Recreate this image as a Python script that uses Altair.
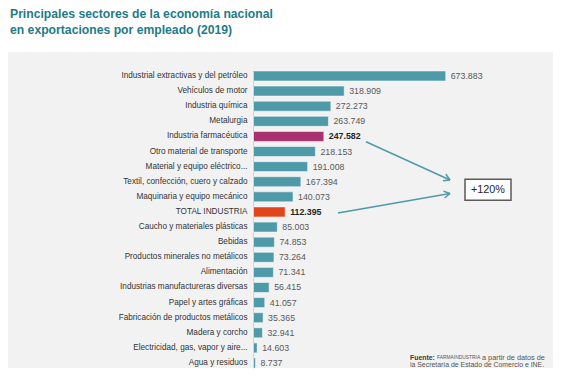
import altair as alt
import pandas as pd

sectors = [
    "Industrial extractivas y del petróleo",
    "Vehículos de motor",
    "Industria química",
    "Metalurgia",
    "Industria farmacéutica",
    "Otro material de transporte",
    "Material y equipo eléctrico...",
    "Textil, confección, cuero y calzado",
    "Maquinaria y equipo mecánico",
    "TOTAL INDUSTRIA",
    "Caucho y materiales plásticas",
    "Bebidas",
    "Productos minerales no metálicos",
    "Alimentación",
    "Industrias manufactureras diversas",
    "Papel y artes gráficas",
    "Fabricación de productos metálicos",
    "Madera y corcho",
    "Electricidad, gas, vapor y aire...",
    "Agua y residuos",
]
values = [673883, 318909, 272273, 263749, 247582, 218153, 191008, 167394,
          140073, 112395, 85003, 74853, 73264, 71341, 56415, 41057, 35365,
          32941, 14603, 8737]
highlight = {"Industria farmacéutica": "pharma", "TOTAL INDUSTRIA": "total"}
title_lines = ["Principales sectores de la economía nacional",
               "en exportaciones por empleado (2019)"]
annotation_text = "+120%"
source_bold = "Fuente:"
source_org = "FARMAINDUSTRIA"
source_rest = "a partir de datos de"
source_line2 = "la Secretaría de Estado de Comercio e INE."

df = pd.DataFrame({"sector": sectors, "value": values})
df["label"] = df["value"].map(lambda v: f"{v:,}".replace(",", "."))
df["group"] = df["sector"].map(lambda s: highlight.get(s, "other"))
df["bold"] = df["group"].map(lambda g: "bold" if g != "other" else "normal")

W, H = 286, 297
FONT = "Liberation Sans, Arial, sans-serif"
TEAL = "#4f9aa9"

dummy = pd.DataFrame({"a": [0]})

y = alt.Y(
    "sector:N", sort=sectors, title=None,
    scale=alt.Scale(paddingInner=0.34, paddingOuter=0),
    axis=alt.Axis(zindex=1, labelFont=FONT, labelFontSize=8.2, labelColor="#333333",
                  domainColor="#d4d4d4", domainWidth=1, ticks=False,
                  labelPadding=6, labelLimit=400),
)
x = alt.X("value:Q", scale=alt.Scale(domain=[0, 1000000]), axis=None)

bg_gray = alt.Chart(dummy).mark_rect(color="#f2f2f2").encode(
    x=alt.value(-245), x2=alt.value(300), y=alt.value(-19), y2=alt.value(297))
bg_white = alt.Chart(dummy).mark_rect(color="#ffffff").encode(
    x=alt.value(-245), x2=alt.value(300), y=alt.value(-63), y2=alt.value(-19))

bars = alt.Chart(df).mark_bar(stroke="#ffffff", strokeOpacity=0.5, strokeWidth=1).encode(
    y=y, x=x,
    color=alt.Color("group:N", legend=None,
                    scale=alt.Scale(domain=["other", "pharma", "total"],
                                    range=[TEAL, "#a8316f", "#e2441b"])),
)
labels_normal = alt.Chart(df).transform_filter("datum.bold == 'normal'").mark_text(
    align="left", baseline="middle", dx=5, font=FONT, fontSize=8.8, color="#595959"
).encode(y=alt.Y("sector:N", sort=sectors), x=x, text="label:N")
labels_bold = alt.Chart(df).transform_filter("datum.bold == 'bold'").mark_text(
    align="left", baseline="middle", dx=5, font=FONT, fontSize=8.8, fontWeight="bold",
    color="#262626"
).encode(y=alt.Y("sector:N", sort=sectors), x=x, text="label:N")

TITLE_COLOR = "#1e7b87"
t1 = alt.Chart(dummy).mark_text(align="left", baseline="top", font=FONT, fontSize=12.2,
                                 fontWeight="bold", color=TITLE_COLOR).encode(
    x=alt.value(-243), y=alt.value(-63), text=alt.value(title_lines[0]))
t2 = alt.Chart(dummy).mark_text(align="left", baseline="top", font=FONT, fontSize=12.2,
                                 fontWeight="bold", color=TITLE_COLOR).encode(
    x=alt.value(-243), y=alt.value(-47), text=alt.value(title_lines[1]))

segments = [
    (113, 70.7, 197, 109),
    (197, 109, 192.9, 103.3),
    (197, 109, 190.0, 109.7),
    (85, 142, 197, 122.5),
    (197, 122.5, 190.4, 120.1),
    (197, 122.5, 191.6, 127.0),
]
arrows = [
    alt.Chart(dummy).mark_rule(color=TEAL, strokeWidth=1.5).encode(
        x=alt.value(a), y=alt.value(b), x2=alt.value(c), y2=alt.value(d))
    for a, b, c, d in segments
]

box = alt.Chart(dummy).mark_rect(fill="#ffffff", stroke="#5a5a5a", strokeWidth=1.5).encode(
    x=alt.value(212), x2=alt.value(258), y=alt.value(108.3), y2=alt.value(129.3))
box_text = alt.Chart(dummy).mark_text(align="center", baseline="middle", font=FONT,
                                      fontSize=10.8, color="#262626").encode(
    x=alt.value(235), y=alt.value(119), text=alt.value(annotation_text))

src_b = alt.Chart(dummy).mark_text(align="left", baseline="middle", font=FONT, fontSize=6.9,
                                   fontWeight="bold", color="#3a3a3a").encode(
    x=alt.value(157), y=alt.value(286.5), text=alt.value(source_bold))
src_org = alt.Chart(dummy).mark_text(align="left", baseline="middle", font=FONT, fontSize=4.9,
                                     color="#555555").encode(
    x=alt.value(184), y=alt.value(286.5), text=alt.value(source_org))
src_rest = alt.Chart(dummy).mark_text(align="left", baseline="middle", font=FONT, fontSize=7.3,
                                      color="#555555").encode(
    x=alt.value(229), y=alt.value(286.5), text=alt.value(source_rest))
src_2 = alt.Chart(dummy).mark_text(align="left", baseline="middle", font=FONT, fontSize=6.9,
                                   color="#555555").encode(
    x=alt.value(157), y=alt.value(293.5), text=alt.value(source_line2))

chart = alt.layer(
    bg_gray, bg_white, bars, labels_normal, labels_bold, t1, t2, *arrows, box, box_text,
    src_b, src_org, src_rest, src_2
).properties(width=W, height=H, padding=0, background="#ffffff").configure_view(strokeWidth=0)

chart.save("out.html", embed_options={"renderer": "svg", "actions": False})
